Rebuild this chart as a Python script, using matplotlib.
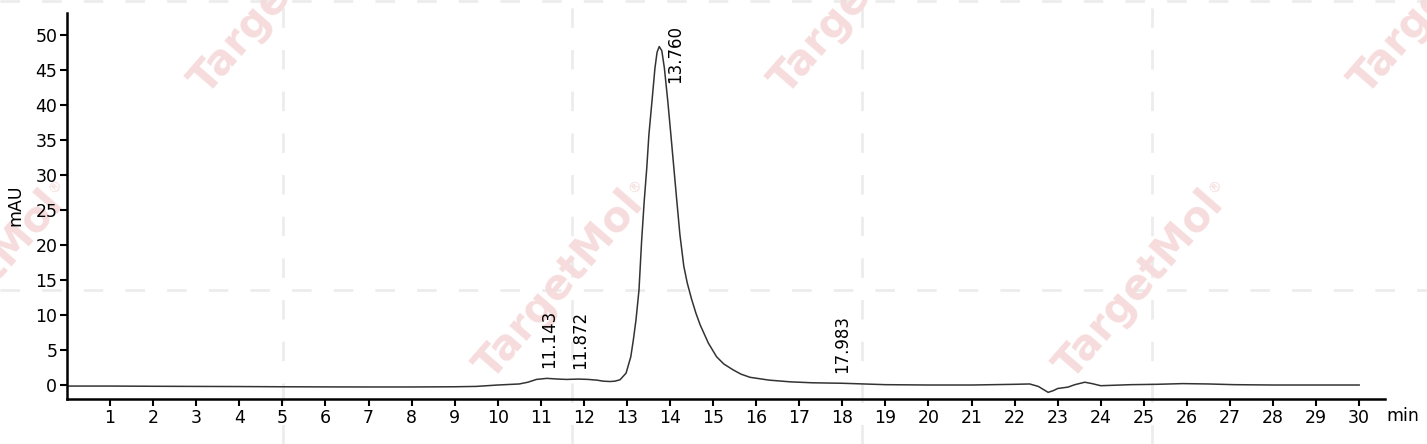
import numpy as np
import matplotlib
matplotlib.use("Agg")
import matplotlib.pyplot as plt
from matplotlib.lines import Line2D

# chromatogram trace (min, mAU)
time_min = [0.0, 1.0, 2.0, 3.0, 4.0, 5.0, 6.0, 7.0, 8.0, 9.0, 9.5, 10.0, 10.5,
            10.7, 10.9, 11.14, 11.4, 11.6, 11.87, 12.1, 12.3, 12.45, 12.61, 12.72,
            12.84, 12.98, 13.09, 13.15, 13.21, 13.28, 13.34, 13.40, 13.46, 13.51,
            13.58, 13.65, 13.70, 13.75, 13.81, 13.87, 13.95, 14.02, 14.09, 14.16,
            14.23, 14.32, 14.40, 14.50, 14.60, 14.70, 14.89, 15.08, 15.25, 15.47,
            15.65, 15.86, 16.3, 16.8, 17.3, 18.0, 19.0, 20.0,
            21.0, 22.0, 22.35, 22.55, 22.78, 22.9, 23.0, 23.24, 23.4, 23.63,
            23.8, 24.0, 24.7, 25.3, 25.9, 26.5, 27.1, 28.0, 29.0, 30.0]
signal_mau = [-0.15, -0.15, -0.18, -0.2, -0.22, -0.25, -0.27, -0.28, -0.28, -0.25,
              -0.2, 0.0, 0.15, 0.4, 0.8, 0.95, 0.85, 0.8, 0.85, 0.8, 0.7, 0.55,
              0.5, 0.55, 0.75, 1.7, 4.05, 6.5, 9.3, 13.6, 20.5, 26.2, 31.0, 35.8,
              40.5, 45.3, 47.6, 48.4, 47.8, 45.3, 40.5, 35.8, 31.0, 26.2,
              21.5, 17.0, 14.6, 12.3, 10.3, 8.6, 6.0, 4.05, 3.0, 2.15,
              1.55, 1.1, 0.7, 0.45, 0.32, 0.25, 0.05, 0.0,
              0.0, 0.1, 0.15, -0.2, -1.05, -0.8, -0.5, -0.3, 0.05, 0.4,
              0.2, -0.1, 0.05, 0.1, 0.2, 0.15, 0.05, 0.0, 0.0, 0.0]

# peak labels: retention time, label x, label base y
peak_names = ["11.143", "11.872", "13.760", "17.983"]
peak_x = [11.19, 11.91, 14.13, 17.99]
peak_y = [2.4, 2.3, 43.2, 1.7]

x_ticks = list(range(1, 31))
y_ticks = list(range(0, 51, 5))

W, H = 1427, 444
fig = plt.figure(figsize=(W / 100, H / 100), dpi=100)

# background watermark: dashed grid + rotated logos
DASH_COLOR = "#ececec"
for px in [283, 572, 862, 1152]:
    fig.add_artist(Line2D([px / W, px / W], [0, 1], transform=fig.transFigure,
                          color=DASH_COLOR, lw=2, ls=(0, (7, 8)), zorder=-3))
for py in [290, 1]:
    fig.add_artist(Line2D([0, 1], [1 - py / H, 1 - py / H], transform=fig.transFigure,
                          color=DASH_COLOR, lw=2, ls=(0, (7, 8)), zorder=-3))

WM_COLOR = "#f6dcdc"
for cx, cy in [(-20, 285), (560, 285), (1140, 285), (275, 0), (855, 0), (1435, 0)]:
    fig.text(cx / W, 1 - cy / H, "TargetMol", rotation=49, color=WM_COLOR,
             fontsize=30, fontweight="bold", ha="center", va="center",
             rotation_mode="anchor", zorder=-2)
    fig.text((cx + 76) / W, 1 - (cy - 98) / H, "®", rotation=49, color=WM_COLOR,
             fontsize=10, ha="center", va="center", rotation_mode="anchor", zorder=-2)

ax = fig.add_axes([67 / W, 45 / H, (1385 - 67) / W, (431 - 45) / H])
ax.patch.set_alpha(0)

ax.plot(time_min, signal_mau, color="#333333", lw=1.1)

for name, lx, ly in zip(peak_names, peak_x, peak_y):
    ax.text(lx, ly, name, rotation=90, ha="center", va="bottom", fontsize=12)

ax.set_xlim(0, 30.6)
ax.set_ylim(-2.0, 53.2)
ax.set_xticks(x_ticks)
ax.set_yticks(y_ticks)
ax.tick_params(labelsize=12.5, width=1.5, length=5, pad=2)

for side in ["top", "right"]:
    ax.spines[side].set_visible(False)
for side in ["left", "bottom"]:
    ax.spines[side].set_linewidth(1.8)

fig.text(15 / W, 1 - 205 / H, "mAU", rotation=90, ha="center", va="center", fontsize=12.5)
fig.text(1403 / W, 1 - 416 / H, "min", ha="center", va="center", fontsize=12.5)

plt.savefig("out.png", dpi=100)
plt.close("all")
